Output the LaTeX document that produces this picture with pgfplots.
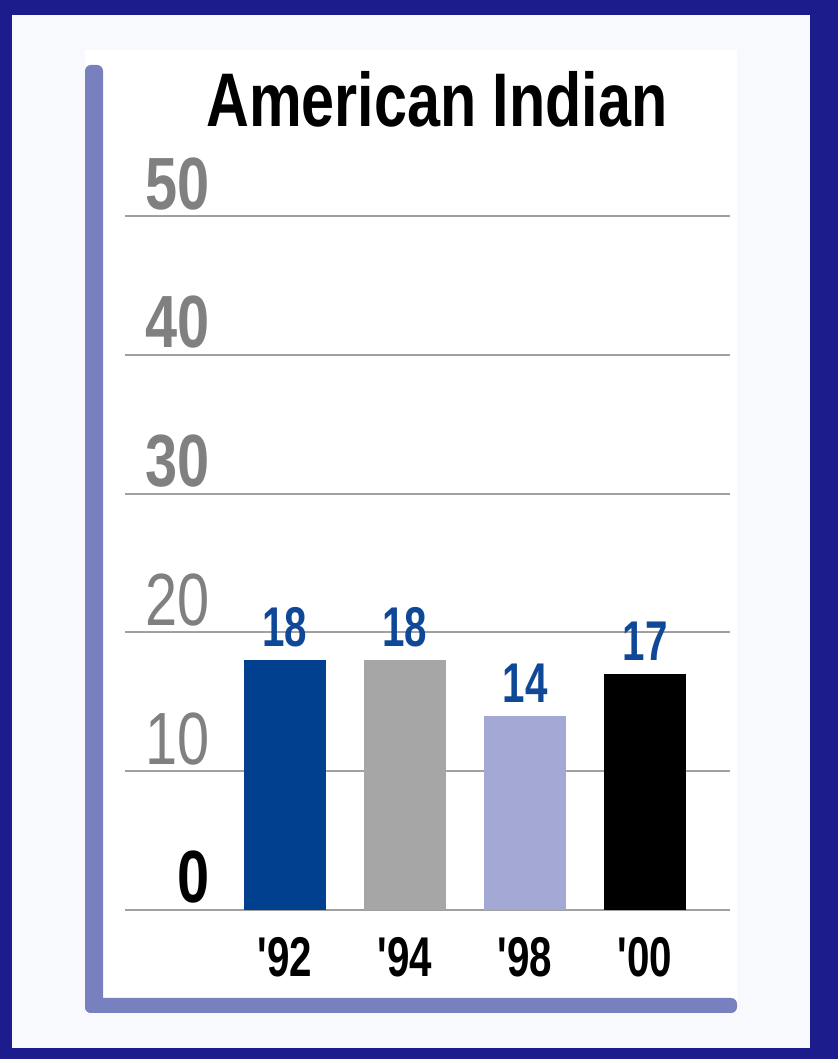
\documentclass[border=0pt]{standalone}
\usepackage{fontspec}
\usepackage{pgfplots}
\pgfplotsset{compat=1.18}
\setmainfont{Liberation Sans}
\newfontfamily\titlefont{Liberation Sans}[FakeStretch=0.78]
\newfontfamily\tickfont{Liberation Sans}[FakeStretch=0.78]
\newfontfamily\condfont{Liberation Sans}[FakeStretch=0.72]

\definecolor{frameblue}{RGB}{28,28,140}
\definecolor{panelbg}{RGB}{248,249,253}
\definecolor{lav}{RGB}{120,128,192}
\definecolor{barblue}{RGB}{0,64,143}
\definecolor{bargray}{RGB}{166,166,166}
\definecolor{barlav}{RGB}{163,168,212}
\definecolor{valblue}{RGB}{16,72,152}
\definecolor{tickgray}{RGB}{128,128,128}
\definecolor{gridgray}{RGB}{160,160,160}

% pixel -> pt (1 px = 0.5 pt, y measured from top)
\newcommand\px[2]{({#1*0.5pt},{(1059-#2)*0.5pt})}
\newcommand\yr[1]{\textquotesingle\kern-1.8pt#1}

\begin{document}
\begin{tikzpicture}
% frame and panels
\fill[frameblue] (0,0) rectangle (419pt,529.5pt);
\fill[panelbg] \px{12}{15} rectangle \px{810}{1048};
\fill[white] \px{85}{50} rectangle \px{737}{1013};
\fill[lav, rounded corners=3pt] \px{85}{65} rectangle \px{103}{1013};
\fill[lav, rounded corners=3pt] \px{85}{998} rectangle \px{737}{1013};

\begin{axis}[
    at={(62.5pt,74.5pt)}, anchor=south west,
    scale only axis,
    width=302.5pt, height=347pt,
    xmin=-1.333, xmax=3.708,
    ymin=0, ymax=50,
    ytick={0,10,20,30,40,50},
    yticklabels={{\bfseries\color{black}0},10,20,{\bfseries 30},{\bfseries 40},{\bfseries 50}},
    yticklabel style={anchor=base east, inner sep=0pt, xshift=42.5pt, yshift=3.5pt,
        font=\tickfont\fontsize{37}{37}\selectfont, text=tickgray},
    xtick={0,1,2,3},
    xticklabels={\yr{92},\yr{94},\yr{98},\yr{00}},
    xticklabel style={anchor=base, inner sep=0pt, yshift=-33.5pt,
        font=\condfont\bfseries\fontsize{28}{28}\selectfont, text=black},
    ymajorgrids,
    grid style={gridgray, line width=1pt},
    axis line style={draw=none},
    major tick length=0pt,
    ybar, bar width=41pt,
    clip=false,
    /pgf/number format/assume math mode=true,
    nodes near coords,
    every node near coord/.append style={inner sep=0pt, yshift=6.5pt,
        font=\condfont\bfseries\fontsize{28}{28}\selectfont, text=valblue},
]
\addplot[fill=barblue, draw=none, bar shift=0pt] coordinates {(0,18)};
\addplot[fill=bargray, draw=none, bar shift=0pt] coordinates {(1,18)};
\addplot[fill=barlav, draw=none, bar shift=0pt] coordinates {(2,14)};
\addplot[fill=black, draw=none, bar shift=0pt] coordinates {(3,17)};
\end{axis}

\node[anchor=base, inner sep=0pt, font=\titlefont\bfseries\fontsize{38}{38}\selectfont]
    at \px{437}{127} {American Indian};
\end{tikzpicture}
\end{document}
